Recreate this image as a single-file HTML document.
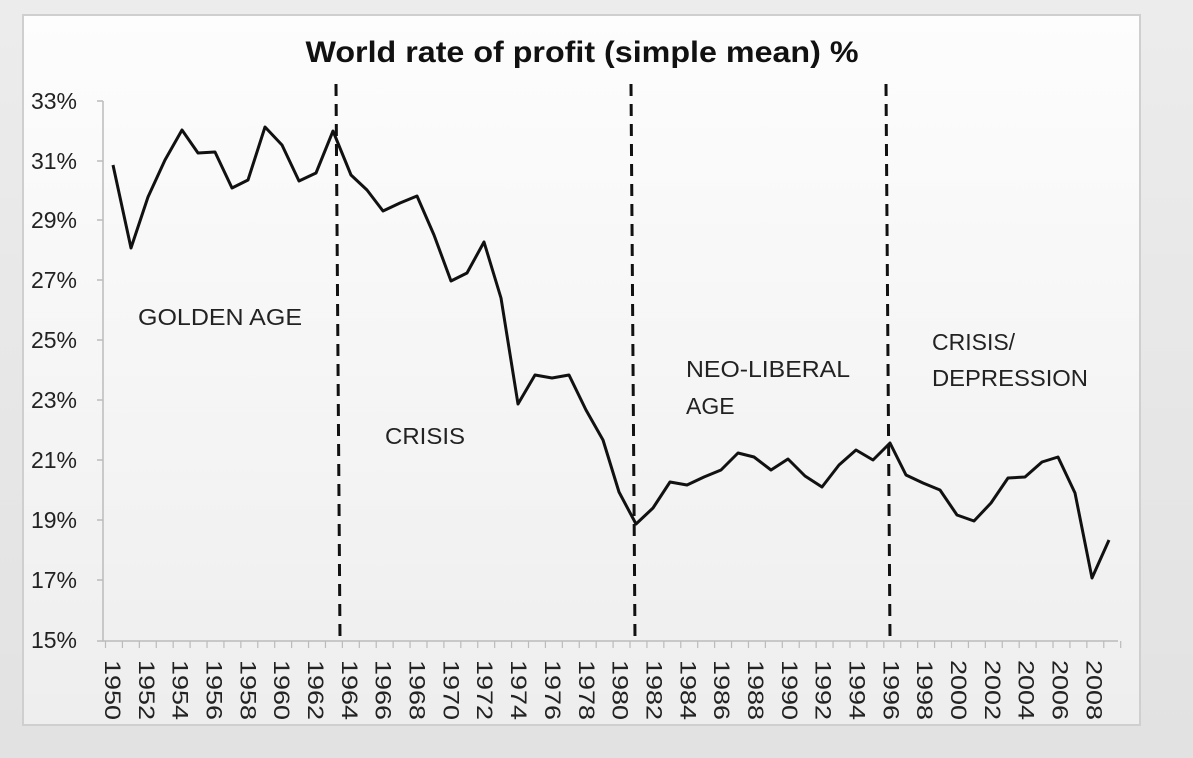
<!DOCTYPE html>
<html><head><meta charset="utf-8"><style>
html,body{margin:0;padding:0;background:#e4e4e4;}
svg{display:block;font-family:"Liberation Sans",sans-serif;}
</style></head><body>
<svg width="1193" height="758" viewBox="0 0 1193 758">
<defs><linearGradient id="g" x1="0" y1="0" x2="0" y2="1"><stop offset="0" stop-color="#fdfdfd"/><stop offset="1" stop-color="#eeeeee"/></linearGradient>
<linearGradient id="bg" x1="0" y1="0" x2="0" y2="1"><stop offset="0" stop-color="#ececec"/><stop offset="1" stop-color="#e2e2e2"/></linearGradient></defs>
<rect width="1193" height="758" fill="url(#bg)"/>
<rect x="23" y="15" width="1117" height="710" fill="url(#g)" stroke="#cfcfcf" stroke-width="2"/>
<text x="582" y="62" text-anchor="middle" font-size="30" font-weight="bold" fill="#111" textLength="553" lengthAdjust="spacingAndGlyphs">World rate of profit (simple mean) %</text>
<g font-size="23" fill="#222" text-anchor="end">
<text x="77" y="109">33%</text><text x="77" y="169">31%</text><text x="77" y="228">29%</text><text x="77" y="288">27%</text><text x="77" y="348">25%</text><text x="77" y="408">23%</text><text x="77" y="468">21%</text><text x="77" y="528">19%</text><text x="77" y="588">17%</text><text x="77" y="648">15%</text>
</g>
<g stroke="#bbb" stroke-width="1.5" fill="none">
<path d="M103 101V641H1118"/>
<path d="M97 101h6M97 161h6M97 220h6M97 280h6M97 340h6M97 400h6M97 460h6M97 520h6M97 580h6M97 641h6"/>
</g>
<g id="ticks" stroke="#bbb" stroke-width="1.2"></g>
<g stroke="#111" stroke-width="3" stroke-dasharray="12,8">
<line x1="336" y1="84" x2="340" y2="640"/>
<line x1="631" y1="84" x2="635" y2="640"/>
<line x1="886" y1="84" x2="890" y2="640"/>
</g>
<polyline fill="none" stroke="#111" stroke-width="3" stroke-linejoin="round" points="113,165 131,248 148,197 165,160 182,130 198,153 215,152 232,188 248,180 265,127 282,145 299,181 316,173 333,131 351,175 367,190 383,211 400,203 417,196 434,235 451,281 467,273 484,242 501,298 518,404 535,375 552,378 569,375 586,410 603,440 619,492 636,524 653,508 670,482 687,485 704,477 721,470 738,453 754,457 771,470 788,459 805,476 822,487 839,465 856,450 873,460 890,443 906,475 923,483 940,490 957,515 974,521 991,503 1008,478 1025,477 1042,462 1058,457 1075,493 1092,578 1109,540"/>
<g font-size="23" fill="#222">
<text x="138" y="325" textLength="164" lengthAdjust="spacingAndGlyphs">GOLDEN AGE</text>
<text x="385" y="444" textLength="80" lengthAdjust="spacingAndGlyphs">CRISIS</text>
<text x="686" y="377" textLength="164" lengthAdjust="spacingAndGlyphs">NEO-LIBERAL</text><text x="686" y="414">AGE</text>
<text x="932" y="350">CRISIS/</text><text x="932" y="386" textLength="156" lengthAdjust="spacingAndGlyphs">DEPRESSION</text>
</g>
<g id="yrs" font-size="22" fill="#222"></g>
<script>
var t=document.getElementById('ticks'),y=document.getElementById('yrs'),ns='http://www.w3.org/2000/svg';
for(var i=0;i<61;i++){var x=105.5+i*16.92;var l=document.createElementNS(ns,'line');l.setAttribute('x1',x);l.setAttribute('x2',x);l.setAttribute('y1',641);l.setAttribute('y2',648);t.appendChild(l);}
for(var i=0;i<60;i+=2){var x=113+i*16.92-8;var e=document.createElementNS(ns,'text');e.setAttribute('transform','translate('+x+',660) rotate(90)');e.setAttribute('textLength','60');e.setAttribute('lengthAdjust','spacingAndGlyphs');e.textContent=1950+i;y.appendChild(e);}
</script>
</svg>
</body></html>
